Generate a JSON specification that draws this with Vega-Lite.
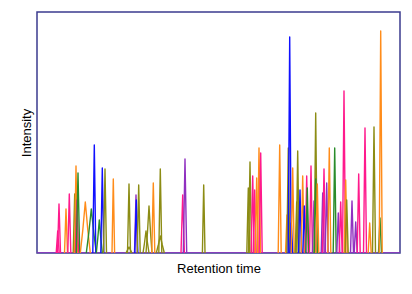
{
"$schema":"https://vega.github.io/schema/vega-lite/v6.json",
"width":363,"height":241,
"autosize":{"type":"none"},
"padding":{"left":37,"top":12,"right":12,"bottom":41},
"config":{"view":{"stroke":"#3b3b8f","strokeWidth":1.5},"font":"Liberation Sans"},
"data":{"values":[
{"peak":0,"c":"purple","x":0,"y":0},{"peak":0,"c":"purple","x":363,"y":0},
{"peak":1,"c":"pink","x":19.2,"y":0},{"peak":1,"c":"pink","x":20.7,"y":22},{"peak":1,"c":"pink","x":22.2,"y":0},
{"peak":2,"c":"pink","x":20.5,"y":0},{"peak":2,"c":"pink","x":22,"y":49},{"peak":2,"c":"pink","x":23.5,"y":0},
{"peak":3,"c":"orange","x":27.5,"y":0},{"peak":3,"c":"orange","x":29,"y":44},{"peak":3,"c":"orange","x":30.5,"y":0},
{"peak":4,"c":"pink","x":30.8,"y":0},{"peak":4,"c":"pink","x":32.3,"y":59},{"peak":4,"c":"pink","x":33.8,"y":0},
{"peak":5,"c":"olive","x":36.2,"y":0},{"peak":5,"c":"olive","x":37.7,"y":59},{"peak":5,"c":"olive","x":39.2,"y":0},
{"peak":6,"c":"orange","x":37.5,"y":0},{"peak":6,"c":"orange","x":39,"y":87},{"peak":6,"c":"orange","x":40.5,"y":0},
{"peak":8,"c":"pink","x":38.5,"y":0},{"peak":8,"c":"pink","x":40,"y":53},{"peak":8,"c":"pink","x":41.5,"y":0},
{"peak":7,"c":"green","x":39.3,"y":0},{"peak":7,"c":"green","x":41,"y":80},{"peak":7,"c":"green","x":42.7,"y":0},
{"peak":9,"c":"orange","x":43.3,"y":0},{"peak":9,"c":"orange","x":45.8,"y":23},{"peak":9,"c":"orange","x":48.3,"y":51},{"peak":9,"c":"orange","x":50.8,"y":23},{"peak":9,"c":"orange","x":53.3,"y":0},
{"peak":10,"c":"green","x":49.3,"y":0},{"peak":10,"c":"green","x":51.8,"y":20},{"peak":10,"c":"green","x":54.3,"y":44},{"peak":10,"c":"green","x":56.8,"y":20},{"peak":10,"c":"green","x":59.3,"y":0},
{"peak":11,"c":"blue","x":55.8,"y":0},{"peak":11,"c":"blue","x":57.3,"y":108},{"peak":11,"c":"blue","x":58.8,"y":0},
{"peak":12,"c":"green","x":59.3,"y":0},{"peak":12,"c":"green","x":60.8,"y":15},{"peak":12,"c":"green","x":62.3,"y":33},{"peak":12,"c":"green","x":63.8,"y":15},{"peak":12,"c":"green","x":65.3,"y":0},
{"peak":13,"c":"blue","x":63.8,"y":0},{"peak":13,"c":"blue","x":65.3,"y":85},{"peak":13,"c":"blue","x":66.8,"y":0},
{"peak":14,"c":"olive","x":66.5,"y":0},{"peak":14,"c":"olive","x":68,"y":84},{"peak":14,"c":"olive","x":69.5,"y":0},
{"peak":15,"c":"orange","x":75,"y":0},{"peak":15,"c":"orange","x":76.3,"y":74},{"peak":15,"c":"orange","x":77.6,"y":0},
{"peak":161,"c":"olive","x":89,"y":0},{"peak":161,"c":"olive","x":92,"y":6},{"peak":161,"c":"olive","x":95,"y":0},
{"peak":16,"c":"olive","x":90.5,"y":0},{"peak":16,"c":"olive","x":92,"y":69},{"peak":16,"c":"olive","x":93.5,"y":0},
{"peak":171,"c":"purple","x":97.5,"y":0},{"peak":171,"c":"purple","x":99,"y":58},{"peak":171,"c":"purple","x":100.5,"y":0},
{"peak":17,"c":"blue","x":97.8,"y":0},{"peak":17,"c":"blue","x":99.3,"y":53},{"peak":17,"c":"blue","x":100.8,"y":0},
{"peak":18,"c":"olive","x":100.2,"y":0},{"peak":18,"c":"olive","x":101.7,"y":68},{"peak":18,"c":"olive","x":103.2,"y":0},
{"peak":19,"c":"olive","x":106,"y":0},{"peak":19,"c":"olive","x":107.5,"y":10},{"peak":19,"c":"olive","x":109,"y":22},{"peak":19,"c":"olive","x":110.5,"y":10},{"peak":19,"c":"olive","x":112,"y":0},
{"peak":20,"c":"olive","x":109,"y":0},{"peak":20,"c":"olive","x":110.5,"y":21},{"peak":20,"c":"olive","x":112,"y":47},{"peak":20,"c":"olive","x":113.5,"y":21},{"peak":20,"c":"olive","x":115,"y":0},
{"peak":21,"c":"orange","x":114.8,"y":0},{"peak":21,"c":"orange","x":116.3,"y":70},{"peak":21,"c":"orange","x":117.8,"y":0},
{"peak":221,"c":"olive","x":119.3,"y":0},{"peak":221,"c":"olive","x":121.3,"y":8},{"peak":221,"c":"olive","x":123.3,"y":17},{"peak":221,"c":"olive","x":125.3,"y":8},{"peak":221,"c":"olive","x":127.3,"y":0},
{"peak":22,"c":"olive","x":121.8,"y":0},{"peak":22,"c":"olive","x":123.3,"y":84},{"peak":22,"c":"olive","x":124.8,"y":0},
{"peak":23,"c":"pink","x":144,"y":0},{"peak":23,"c":"pink","x":145.7,"y":58},{"peak":23,"c":"pink","x":147.4,"y":0},
{"peak":24,"c":"purple","x":146.3,"y":0},{"peak":24,"c":"purple","x":148,"y":94},{"peak":24,"c":"purple","x":149.7,"y":0},
{"peak":25,"c":"olive","x":165.4,"y":0},{"peak":25,"c":"olive","x":166.7,"y":68},{"peak":25,"c":"olive","x":168,"y":0},
{"peak":26,"c":"olive","x":209.8,"y":0},{"peak":26,"c":"olive","x":211.3,"y":65},{"peak":26,"c":"olive","x":212.8,"y":0},
{"peak":27,"c":"olive","x":211.5,"y":0},{"peak":27,"c":"olive","x":213,"y":91},{"peak":27,"c":"olive","x":214.5,"y":0},
{"peak":28,"c":"pink","x":214.2,"y":0},{"peak":28,"c":"pink","x":215.7,"y":77},{"peak":28,"c":"pink","x":217.2,"y":0},
{"peak":29,"c":"pink","x":216.2,"y":0},{"peak":29,"c":"pink","x":217.7,"y":63},{"peak":29,"c":"pink","x":219.2,"y":0},
{"peak":30,"c":"orange","x":218.2,"y":0},{"peak":30,"c":"orange","x":219.7,"y":75},{"peak":30,"c":"orange","x":221.2,"y":0},
{"peak":31,"c":"orange","x":220.5,"y":0},{"peak":31,"c":"orange","x":222,"y":105},{"peak":31,"c":"orange","x":223.5,"y":0},
{"peak":32,"c":"pink","x":222.2,"y":0},{"peak":32,"c":"pink","x":223.7,"y":100},{"peak":32,"c":"pink","x":225.2,"y":0},
{"peak":33,"c":"orange","x":241.2,"y":0},{"peak":33,"c":"orange","x":242.7,"y":108},{"peak":33,"c":"orange","x":244.2,"y":0},
{"peak":331,"c":"orange","x":248.5,"y":0},{"peak":331,"c":"orange","x":250,"y":38},{"peak":331,"c":"orange","x":251.5,"y":0},
{"peak":34,"c":"olive","x":249.8,"y":0},{"peak":34,"c":"olive","x":251.3,"y":105},{"peak":34,"c":"olive","x":252.8,"y":0},
{"peak":35,"c":"blue","x":251.2,"y":0},{"peak":35,"c":"blue","x":252.7,"y":216},{"peak":35,"c":"blue","x":254.2,"y":0},
{"peak":351,"c":"blue","x":252.8,"y":0},{"peak":351,"c":"blue","x":254.3,"y":30},{"peak":351,"c":"blue","x":255.8,"y":0},
{"peak":36,"c":"orange","x":254.2,"y":0},{"peak":36,"c":"orange","x":255.7,"y":85},{"peak":36,"c":"orange","x":257.2,"y":0},
{"peak":361,"c":"olive","x":258.2,"y":0},{"peak":361,"c":"olive","x":259.7,"y":51},{"peak":361,"c":"olive","x":261.2,"y":0},
{"peak":37,"c":"olive","x":259.2,"y":0},{"peak":37,"c":"olive","x":260.7,"y":102},{"peak":37,"c":"olive","x":262.2,"y":0},
{"peak":38,"c":"blue","x":261.5,"y":0},{"peak":38,"c":"blue","x":263,"y":63},{"peak":38,"c":"blue","x":264.5,"y":0},
{"peak":39,"c":"orange","x":264.2,"y":0},{"peak":39,"c":"orange","x":265.7,"y":77},{"peak":39,"c":"orange","x":267.2,"y":0},
{"peak":40,"c":"blue","x":265.8,"y":0},{"peak":40,"c":"blue","x":267.3,"y":47},{"peak":40,"c":"blue","x":268.8,"y":0},
{"peak":41,"c":"pink","x":268.2,"y":0},{"peak":41,"c":"pink","x":269.7,"y":77},{"peak":41,"c":"pink","x":271.2,"y":0},
{"peak":42,"c":"green","x":268.8,"y":0},{"peak":42,"c":"green","x":270.3,"y":65},{"peak":42,"c":"green","x":271.8,"y":0},
{"peak":43,"c":"pink","x":272.5,"y":0},{"peak":43,"c":"pink","x":274,"y":87},{"peak":43,"c":"pink","x":275.5,"y":0},
{"peak":44,"c":"purple","x":275.5,"y":0},{"peak":44,"c":"purple","x":277,"y":52},{"peak":44,"c":"purple","x":278.5,"y":0},
{"peak":45,"c":"olive","x":277.2,"y":0},{"peak":45,"c":"olive","x":278.7,"y":140},{"peak":45,"c":"olive","x":280.2,"y":0},
{"peak":46,"c":"green","x":277.2,"y":0},{"peak":46,"c":"green","x":278.7,"y":74},{"peak":46,"c":"green","x":280.2,"y":0},
{"peak":47,"c":"orange","x":278.8,"y":0},{"peak":47,"c":"orange","x":280.3,"y":69},{"peak":47,"c":"orange","x":281.8,"y":0},
{"peak":48,"c":"purple","x":284.2,"y":0},{"peak":48,"c":"purple","x":285.7,"y":60},{"peak":48,"c":"purple","x":287.2,"y":0},
{"peak":49,"c":"pink","x":285.5,"y":0},{"peak":49,"c":"pink","x":287,"y":84},{"peak":49,"c":"pink","x":288.5,"y":0},
{"peak":50,"c":"purple","x":288.2,"y":0},{"peak":50,"c":"purple","x":289.7,"y":70},{"peak":50,"c":"purple","x":291.2,"y":0},
{"peak":51,"c":"orange","x":290.8,"y":0},{"peak":51,"c":"orange","x":292.3,"y":105},{"peak":51,"c":"orange","x":293.8,"y":0},
{"peak":52,"c":"green","x":296.2,"y":0},{"peak":52,"c":"green","x":297.7,"y":105},{"peak":52,"c":"green","x":299.2,"y":0},
{"peak":53,"c":"purple","x":299.8,"y":0},{"peak":53,"c":"purple","x":301.3,"y":40},{"peak":53,"c":"purple","x":302.8,"y":0},
{"peak":54,"c":"pink","x":302.2,"y":0},{"peak":54,"c":"pink","x":303.7,"y":51},{"peak":54,"c":"pink","x":305.2,"y":0},
{"peak":55,"c":"pink","x":305.5,"y":0},{"peak":55,"c":"pink","x":307,"y":162},{"peak":55,"c":"pink","x":308.5,"y":0},
{"peak":56,"c":"orange","x":307.2,"y":0},{"peak":56,"c":"orange","x":308.7,"y":73},{"peak":56,"c":"orange","x":310.2,"y":0},
{"peak":57,"c":"olive","x":308.2,"y":0},{"peak":57,"c":"olive","x":309.7,"y":53},{"peak":57,"c":"olive","x":311.2,"y":0},
{"peak":58,"c":"purple","x":313.5,"y":0},{"peak":58,"c":"purple","x":315,"y":52},{"peak":58,"c":"purple","x":316.5,"y":0},
{"peak":59,"c":"purple","x":317.2,"y":0},{"peak":59,"c":"purple","x":318.7,"y":31},{"peak":59,"c":"purple","x":320.2,"y":0},
{"peak":60,"c":"pink","x":320.2,"y":0},{"peak":60,"c":"pink","x":321.7,"y":79},{"peak":60,"c":"pink","x":323.2,"y":0},
{"peak":61,"c":"pink","x":326.5,"y":0},{"peak":61,"c":"pink","x":328,"y":125},{"peak":61,"c":"pink","x":329.5,"y":0},
{"peak":62,"c":"orange","x":331.2,"y":0},{"peak":62,"c":"orange","x":332.7,"y":30},{"peak":62,"c":"orange","x":334.2,"y":0},
{"peak":63,"c":"olive","x":335.5,"y":0},{"peak":63,"c":"olive","x":337,"y":126},{"peak":63,"c":"olive","x":338.5,"y":0},
{"peak":64,"c":"green","x":341.5,"y":0},{"peak":64,"c":"green","x":343,"y":35},{"peak":64,"c":"green","x":344.5,"y":0},
{"peak":65,"c":"orange","x":342.2,"y":0},{"peak":65,"c":"orange","x":343.7,"y":222},{"peak":65,"c":"orange","x":345.2,"y":0}
]},
"mark":{"type":"line","strokeWidth":1.4,"strokeJoin":"round","clip":true},
"encoding":{
"x":{"field":"x","type":"quantitative","scale":{"domain":[0,363],"nice":false,"zero":false},
"axis":{"title":"Retention time","labels":false,"ticks":false,"domain":false,"grid":false,"titleFont":"Liberation Sans","titleFontSize":13,"titleFontWeight":"normal","titleColor":"#000000","titlePadding":9}},
"y":{"field":"y","type":"quantitative","scale":{"domain":[0,241],"nice":false},
"axis":{"title":"Intensity","labels":false,"ticks":false,"domain":false,"grid":false,"titleFont":"Liberation Sans","titleFontSize":13,"titleFontWeight":"normal","titleColor":"#000000","titlePadding":4}},
"detail":{"field":"peak","type":"nominal"},
"color":{"field":"c","type":"nominal","legend":null,
"scale":{"domain":["pink","orange","olive","green","blue","purple"],"range":["#ff1a8c","#ff8c1a","#8c8c14","#2a8c2a","#1010ff","#9030c0"]}}
}
}
